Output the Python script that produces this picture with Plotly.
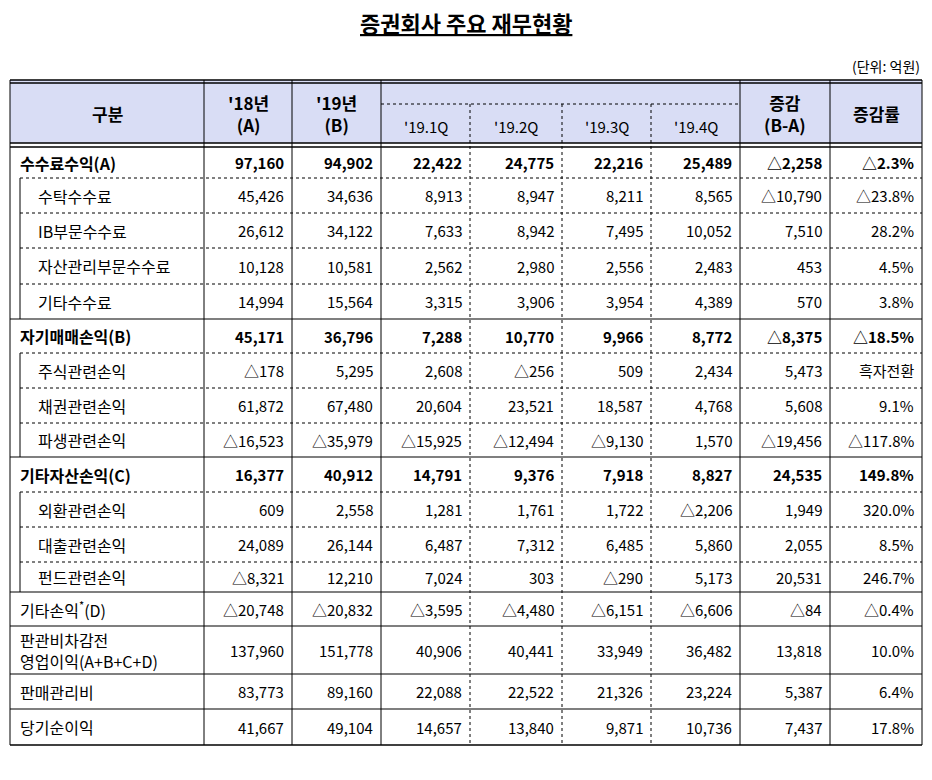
import plotly.graph_objects as go

title = "증권회사 주요 재무현황"
unit = "(단위: 억원)"
footnote = "* 기타손익 : 수수료비용, 전체 조달자금 이자비용 등"
headers = ["구분", "'18년<br>(A)", "'19년<br>(B)", "'19.1Q", "'19.2Q", "'19.3Q", "'19.4Q", "증감<br>(B-A)", "증감률"]

labels = ["수수료수익(A)", "수탁수수료", "IB부문수수료", "자산관리부문수수료", "기타수수료",
          "자기매매손익(B)", "주식관련손익", "채권관련손익", "파생관련손익",
          "기타자산손익(C)", "외환관련손익", "대출관련손익", "펀드관련손익",
          "기타손익<sup>*</sup>(D)", "판관비차감전<br>영업이익(A+B+C+D)", "판매관리비", "당기순이익"]
level = [0, 1, 1, 1, 1, 0, 1, 1, 1, 0, 1, 1, 1, 0, 0, 0, 0]
bold = [True, False, False, False, False, True, False, False, False, True, False, False, False, False, False, False, False]
y18 = ["97,160", "45,426", "26,612", "10,128", "14,994", "45,171", "△178", "61,872", "△16,523",
       "16,377", "609", "24,089", "△8,321", "△20,748", "137,960", "83,773", "41,667"]
y19 = ["94,902", "34,636", "34,122", "10,581", "15,564", "36,796", "5,295", "67,480", "△35,979",
       "40,912", "2,558", "26,144", "12,210", "△20,832", "151,778", "89,160", "49,104"]
q1 = ["22,422", "8,913", "7,633", "2,562", "3,315", "7,288", "2,608", "20,604", "△15,925",
      "14,791", "1,281", "6,487", "7,024", "△3,595", "40,906", "22,088", "14,657"]
q2 = ["24,775", "8,947", "8,942", "2,980", "3,906", "10,770", "△256", "23,521", "△12,494",
      "9,376", "1,761", "7,312", "303", "△4,480", "40,441", "22,522", "13,840"]
q3 = ["22,216", "8,211", "7,495", "2,556", "3,954", "9,966", "509", "18,587", "△9,130",
      "7,918", "1,722", "6,485", "△290", "△6,151", "33,949", "21,326", "9,871"]
q4 = ["25,489", "8,565", "10,052", "2,483", "4,389", "8,772", "2,434", "4,768", "1,570",
      "8,827", "△2,206", "5,860", "5,173", "△6,606", "36,482", "23,224", "10,736"]
diff = ["△2,258", "△10,790", "7,510", "453", "570", "△8,375", "5,473", "5,608", "△19,456",
        "24,535", "1,949", "2,055", "20,531", "△84", "13,818", "5,387", "7,437"]
rate = ["△2.3%", "△23.8%", "28.2%", "4.5%", "3.8%", "△18.5%", "흑자전환", "9.1%", "△117.8%",
        "149.8%", "320.0%", "8.5%", "246.7%", "△0.4%", "10.0%", "6.4%", "17.8%"]
values = [y18, y19, q1, q2, q3, q4, diff, rate]

# layout geometry (pixels of the viewport)
colx = [10, 204, 292, 381, 470, 562, 651, 740, 830, 922]
row_bounds = [147, 178, 213, 248, 284, 319, 353, 388, 423, 457, 492, 527, 562, 592, 626, 674, 709, 745]
H_TOP, H_MID, H_BOT = 80, 104, 143
FONT = "Noto Sans CJK KR"
OFF = 8  # page body margin

shapes, ann = [], []

def line(x0, y0, x1, y1, w=1, dash="solid", c="black"):
    shapes.append(dict(type="line", xref="x", yref="y", x0=x0, y0=y0, x1=x1, y1=y1,
                       line=dict(color=c, width=w, dash=dash)))

shapes.append(dict(type="rect", xref="x", yref="y", x0=colx[0], x1=colx[-1], y0=H_TOP, y1=H_BOT,
                   fillcolor="#d9ddf5", line=dict(width=0), layer="below"))
for yy in (H_TOP, H_TOP + 3, H_BOT, H_BOT + 4):
    line(colx[0], yy, colx[-1], yy, 1.3)
line(colx[3], H_MID, colx[7], H_MID, 1, "dot")

for i, x in enumerate(colx):
    if i in (4, 5, 6):
        line(x, H_MID, x, row_bounds[-1], 1, "dot")
    else:
        line(x, H_TOP, x, row_bounds[-1], 1)

n = len(labels)
for i in range(1, n):
    yy = row_bounds[i]
    if level[i] == 1:
        line(colx[0] + 10, yy, colx[-1], yy, 1, "dot")
    else:
        line(colx[0], yy, colx[-1], yy, 1.2)
line(colx[0], row_bounds[-1], colx[-1], row_bounds[-1], 1.5)
for i in range(n):
    if level[i] == 1:
        line(colx[0] + 10, row_bounds[i], colx[0] + 10, row_bounds[i + 1], 1)

for j, h in enumerate(headers):
    x = (colx[j] + colx[j + 1]) / 2
    if 3 <= j <= 6:
        ann.append(dict(x=x, y=(H_MID + H_BOT) / 2 + 3, text=h, font=dict(size=15, family=FONT)))
    else:
        ann.append(dict(x=x, y=(H_TOP + H_BOT) / 2 + 2, text="<b>" + h + "</b>", font=dict(size=17, family=FONT)))

for i in range(n):
    yc = (row_bounds[i] + row_bounds[i + 1]) / 2
    lab = labels[i]
    if bold[i]:
        lab = "<b>" + lab + "</b>"
    ann.append(dict(x=colx[0] + (26 if level[i] else 8), y=yc, text=lab, xanchor="left", align="left",
                    font=dict(size=16, family=FONT)))
    for j, col in enumerate(values):
        t = col[i]
        if bold[i]:
            t = "<b>" + t + "</b>"
        ann.append(dict(x=colx[j + 2] - 6, y=yc, text=t, xanchor="right",
                        font=dict(size=15, family=FONT)))

ann.append(dict(x=466, y=22, text="<b><u>" + title + "</u></b>", font=dict(size=22, family=FONT)))
ann.append(dict(x=922, y=66, text=unit, xanchor="right", font=dict(size=14, family=FONT)))
ann.append(dict(x=6, y=766, text=footnote, xanchor="left", font=dict(size=14, family=FONT)))

for a in ann:
    a.update(xref="x", yref="y", showarrow=False)
    a.setdefault("xanchor", "center")
    a["yanchor"] = "middle"
    a["font"]["color"] = "black"

fig = go.Figure()
fig.update_layout(width=932, height=780, margin=dict(l=0, r=0, t=0, b=0),
                  plot_bgcolor="white", paper_bgcolor="white",
                  xaxis=dict(range=[OFF, 932 + OFF], visible=False, fixedrange=True),
                  yaxis=dict(range=[780 + OFF, OFF], visible=False, fixedrange=True),
                  shapes=shapes, annotations=ann, showlegend=False)
fig.write_html("out.html")
